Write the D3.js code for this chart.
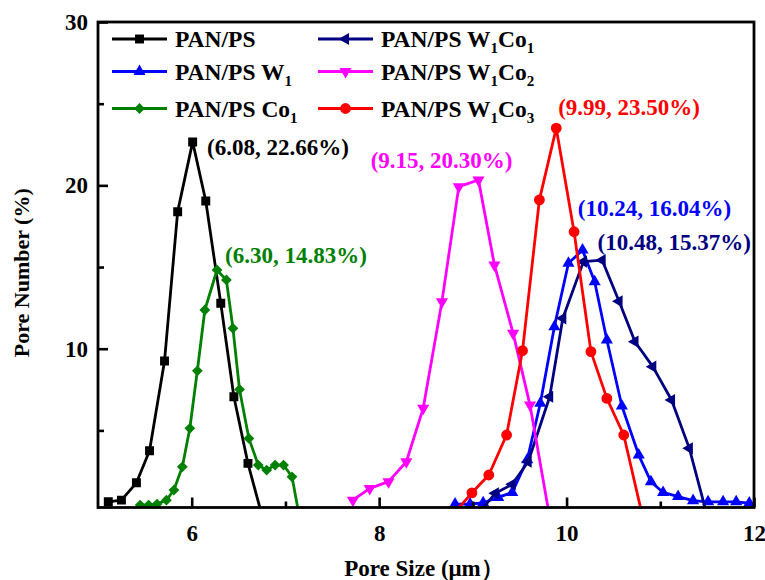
<!DOCTYPE html>
<html><head><meta charset="utf-8">
<script src="https://cdn.jsdelivr.net/npm/d3@7"></script>
<style>body{margin:0;background:#fff}</style>
</head><body><svg id="c" width="765" height="580"></svg>
<script>
// ---- data ----
const seriesNames = ["PAN/PS", "PAN/PS W_1", "PAN/PS Co_1", "PAN/PS W_1Co_1", "PAN/PS W_1Co_2", "PAN/PS W_1Co_3"];
const seriesColors = ["#000000", "#0000ff", "#008000", "#000080", "#ff00ff", "#ff0000"];
const seriesSymbols = ["square", "up", "diamond", "left", "down", "circle"];

const panPsX = [5.11, 5.25, 5.41, 5.55, 5.71, 5.85, 6.01, 6.15, 6.31, 6.45, 6.60, 6.74];
const panPsY = [0.63, 0.73, 1.79, 3.75, 9.25, 18.39, 22.66, 19.04, 12.78, 7.06, 2.98, 0];

const w1X = [8.81, 8.97, 9.11, 9.27, 9.42, 9.58, 9.72, 9.87, 10.02, 10.17, 10.30, 10.43, 10.59, 10.77, 10.90, 11.03, 11.19, 11.35, 11.51, 11.67, 11.81, 11.95];
const w1Y = [0.49, 0.49, 0.57, 0.9, 1.2, 3.2, 6.66, 11.35, 15.23, 16.04, 14.1, 10.53, 6.49, 3.49, 1.86, 1.2, 0.95, 0.7, 0.63, 0.63, 0.63, 0.55];

const co1X = [5.45, 5.54, 5.63, 5.73, 5.81, 5.90, 5.98, 6.06, 6.14, 6.27, 6.37, 6.44, 6.51, 6.61, 6.71, 6.80, 6.89, 6.98, 7.07, 7.14];
const co1Y = [0.43, 0.43, 0.49, 0.73, 1.35, 2.77, 5.13, 8.65, 12.37, 14.82, 14.21, 11.25, 7.51, 4.51, 2.88, 2.57, 2.88, 2.88, 2.16, 0];

const w1co1X = [9.07, 9.24, 9.42, 9.59, 9.82, 9.96, 10.18, 10.38, 10.56, 10.73, 10.92, 11.12, 11.31, 11.49];
const w1co1Y = [0, 1.15, 1.7, 3.08, 7.06, 11.86, 15.33, 15.42, 12.9, 10.43, 8.9, 6.86, 3.9, 0];

const w1co2X = [7.72, 7.90, 8.10, 8.29, 8.47, 8.67, 8.85, 9.06, 9.23, 9.43, 9.61, 9.81];
const w1co2Y = [0.73, 1.45, 1.86, 3.08, 6.35, 12.88, 19.92, 20.33, 15.13, 10.94, 6.55, 0];

const w1co3X = [8.81, 8.99, 9.17, 9.36, 9.53, 9.71, 9.89, 10.08, 10.26, 10.43, 10.61, 10.80];
const w1co3Y = [0, 1.18, 2.27, 4.72, 9.88, 19.11, 23.5, 17.16, 9.82, 6.96, 4.72, 0];

const xTicks = [6, 8, 10, 12];
const xMinorTicks = [7, 9, 11];
const yTicks = [10, 20, 30];
const yMinorTicks = [5, 15, 25];

const peakLabels = ["(6.08, 22.66%)", "(10.24, 16.04%)", "(6.30, 14.83%)", "(10.48, 15.37%)", "(9.15, 20.30%)", "(9.99, 23.50%)"];
const peakLabelX = [6.163, 10.12, 6.355, 10.33, 7.91, 9.91];
const peakLabelY = [21.86, 18.13, 15.25, 16.04, 21.07, 24.31];

const xTitle = "Pore Size (μm）";
const yTitle = "Pore Number (%)";

// ---- chart ----
const allX = [panPsX, w1X, co1X, w1co1X, w1co2X, w1co3X];
const allY = [panPsY, w1Y, co1Y, w1co1Y, w1co2Y, w1co3Y];
const series = seriesNames.map((n, i) => ({
  name: n, color: seriesColors[i], sym: seriesSymbols[i],
  pts: allX[i].map((x, j) => ({x, y: allY[i][j]}))
}));

const L = 98, R = 754, T = 22, B = 507.5;
const x = d3.scaleLinear().domain([5, 12]).range([L, R]);
const y = d3.scaleLinear().domain([0.28, 30]).range([B, T]);
const FONT = "'Liberation Serif','Times New Roman',serif";

const svg = d3.select("#c");
svg.append("rect").attr("width", 765).attr("height", 580).attr("fill", "#fff");

svg.append("defs").append("clipPath").attr("id", "clip")
  .append("rect").attr("x", L).attr("y", T).attr("width", R - L).attr("height", B - T);

function symPath(sym) {
  const g = {square: d3.symbolSquare, up: d3.symbolTriangle, down: d3.symbolTriangle,
             left: d3.symbolTriangle, diamond: d3.symbolSquare, circle: d3.symbolCircle}[sym];
  const size = {square: 80, up: 64, down: 64, left: 64, diamond: 58, circle: 92}[sym];
  return d3.symbol().type(g).size(size)();
}
function symRot(sym) {
  return {square: 0, up: 0, down: 180, left: -90, diamond: 45, circle: 0}[sym];
}

const plot = svg.append("g").attr("clip-path", "url(#clip)");
const line = d3.line().x(d => x(d.x)).y(d => y(d.y));

series.forEach(s => {
  const g = plot.append("g");
  g.append("path").attr("d", line(s.pts)).attr("fill", "none")
    .attr("stroke", s.color).attr("stroke-width", 2.8).attr("stroke-linejoin", "round");
  g.selectAll("path.m").data(s.pts).join("path").attr("class", "m")
    .attr("d", symPath(s.sym))
    .attr("transform", d => `translate(${x(d.x)},${y(d.y)}) rotate(${symRot(s.sym)})`)
    .attr("fill", s.color);
});

// axes frame
svg.append("rect").attr("x", L).attr("y", T).attr("width", R - L).attr("height", B - T)
  .attr("fill", "none").attr("stroke", "#000").attr("stroke-width", 2.8);

// x ticks (inward)
const xAxis = d3.axisBottom(x).tickValues(xTicks).tickSize(-10).tickPadding(17).tickFormat(d3.format("d"));
const gx = svg.append("g").attr("transform", `translate(0,${B})`).call(xAxis);
gx.select(".domain").remove();
gx.selectAll(".tick line").attr("stroke-width", 2.6);
gx.selectAll("text").attr("font-family", FONT).attr("font-weight", "bold").attr("font-size", 23).attr("fill", "#000");
const gxm = svg.append("g").attr("transform", `translate(0,${B})`)
  .call(d3.axisBottom(x).tickValues(xMinorTicks).tickSize(-6).tickFormat(""));
gxm.select(".domain").remove();
gxm.selectAll(".tick line").attr("stroke-width", 2.6);

const yAxis = d3.axisLeft(y).tickValues(yTicks).tickSize(-10).tickPadding(10).tickFormat(d3.format("d"));
const gy = svg.append("g").attr("transform", `translate(${L},0)`).call(yAxis);
gy.select(".domain").remove();
gy.selectAll(".tick line").attr("stroke-width", 2.6);
gy.selectAll("text").attr("font-family", FONT).attr("font-weight", "bold").attr("font-size", 23).attr("fill", "#000");
const gym = svg.append("g").attr("transform", `translate(${L},0)`)
  .call(d3.axisLeft(y).tickValues(yMinorTicks).tickSize(-6).tickFormat(""));
gym.select(".domain").remove();
gym.selectAll(".tick line").attr("stroke-width", 2.6);

// axis titles
svg.append("text").attr("x", (L + R) / 2 - 2).attr("y", 576).attr("text-anchor", "middle")
  .attr("font-family", FONT).attr("font-weight", "bold").attr("font-size", 23).text(xTitle);
svg.append("text").attr("transform", `translate(29,${(T + B) / 2 + 8}) rotate(-90)`).attr("text-anchor", "middle")
  .attr("font-family", FONT).attr("font-weight", "bold").attr("font-size", 22).text(yTitle);

// subscript-aware text
function richText(sel, str, size) {
  const parts = str.split("_");
  sel.append("tspan").text(parts[0]);
  for (let i = 1; i < parts.length; i++) {
    sel.append("tspan").attr("font-size", size * 0.64).attr("dy", 6).text(parts[i][0]);
    if (parts[i].length > 1) sel.append("tspan").attr("font-size", size).attr("dy", -6).text(parts[i].slice(1));
  }
}

// legend
const legRowY = [39, 71.5, 108.5];
const legColX = [112, 318];
series.forEach((s, i) => {
  const col = Math.floor(i / 3), row = i % 3;
  const lx = legColX[col], ly = legRowY[row];
  const g = svg.append("g");
  g.append("line").attr("x1", lx).attr("x2", lx + 55).attr("y1", ly).attr("y2", ly)
    .attr("stroke", s.color).attr("stroke-width", 2.8);
  g.append("path").attr("d", symPath(s.sym))
    .attr("transform", `translate(${lx + 27.5},${ly}) rotate(${symRot(s.sym)})`).attr("fill", s.color);
  const t = g.append("text").attr("x", lx + 63).attr("y", ly + 8)
    .attr("font-family", FONT).attr("font-weight", "bold").attr("font-size", 23.5).attr("fill", "#000");
  richText(t, s.name, 23.5);
});

// peak annotations
peakLabels.forEach((lab, i) => {
  svg.append("text").attr("x", x(peakLabelX[i])).attr("y", y(peakLabelY[i]))
    .attr("font-family", FONT).attr("font-weight", "bold").attr("font-size", 23)
    .attr("fill", seriesColors[i]).text(lab);
});
</script></body></html>
